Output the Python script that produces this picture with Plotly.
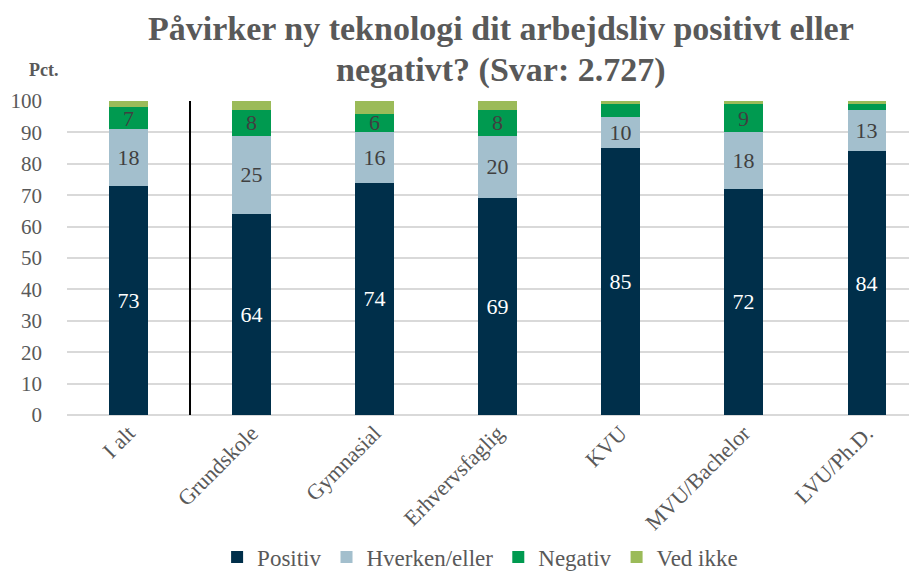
import plotly.graph_objects as go

categories = ["I alt", "Grundskole", "Gymnasial", "Erhvervsfaglig", "KVU", "MVU/Bachelor", "LVU/Ph.D."]
positiv = [73, 64, 74, 69, 85, 72, 84]
hverken = [18, 25, 16, 20, 10, 18, 13]
negativ = [7, 8, 6, 8, 4, 9, 2]
ved_ikke = [2, 3, 4, 3, 1, 1, 1]
y_ticks = [0, 10, 20, 30, 40, 50, 60, 70, 80, 90, 100]
title_lines = ["Påvirker ny teknologi dit arbejdsliv positivt eller", "negativt? (Svar: 2.727)"]

FONT = "Liberation Serif"
GREY = "#595959"

def labels(vals, minimum=5):
    return [str(v) if v >= minimum else "" for v in vals]

series = [
    ("Positiv", positiv, "#002f4a", "white", labels(positiv)),
    ("Hverken/eller", hverken, "#a3bfcd", "#404040", labels(hverken)),
    ("Negativ", negativ, "#009a50", "#404040", labels(negativ)),
    ("Ved ikke", ved_ikke, "#9bbb59", "#404040", labels(ved_ikke, 100)),
]

fig = go.Figure()
for name, vals, color, tcolor, txt in series:
    fig.add_trace(go.Bar(
        name=name, x=categories, y=vals, marker_color=color,
        marker_line_width=0,
        text=txt, textposition="inside", insidetextanchor="middle",
        textfont=dict(family=FONT, size=22, color=tcolor),
        textangle=0, constraintext="none",
    ))

fig.add_shape(type="line", xref="x", yref="y", x0=0.5, x1=0.5, y0=0, y1=100,
              line=dict(color="black", width=2))

fig.add_annotation(text="<b>Pct.</b>", xref="paper", yref="paper", x=-0.028, y=1.099,
                   xanchor="center", yanchor="middle", showarrow=False,
                   font=dict(family=FONT, size=18, color=GREY))
for line, ypos in zip(title_lines, [1.232, 1.099]):
    fig.add_annotation(text="<b>" + line + "</b>", xref="paper", yref="paper", x=0.51, y=ypos,
                       xanchor="center", yanchor="middle", showarrow=False,
                       font=dict(family=FONT, size=34, color=GREY))

fig.update_layout(
    width=917, height=573,
    barmode="stack", bargap=0.69,
    plot_bgcolor="white", paper_bgcolor="white",
    margin=dict(l=59, r=8, t=93, b=166, autoexpand=False),
    font=dict(family=FONT, color=GREY),
    xaxis=dict(range=[-0.5, 6.41], tickangle=-45, tickfont=dict(size=22, color=GREY),
               showline=False, ticks="", automargin=False),
    yaxis=dict(range=[0, 100], tickvals=y_ticks, tickfont=dict(size=21, color=GREY),
               showgrid=True, gridcolor="#d9d9d9", gridwidth=2, zeroline=True,
               zerolinecolor="#d9d9d9", zerolinewidth=2, ticks="", ticklabelstandoff=24,
               automargin=False),
    legend=dict(orientation="h", x=0.486, xanchor="center", y=-0.452, yanchor="middle",
                font=dict(family=FONT, size=23, color=GREY), traceorder="normal",
                itemwidth=30),
    showlegend=True,
)

fig.write_html("out.html")
